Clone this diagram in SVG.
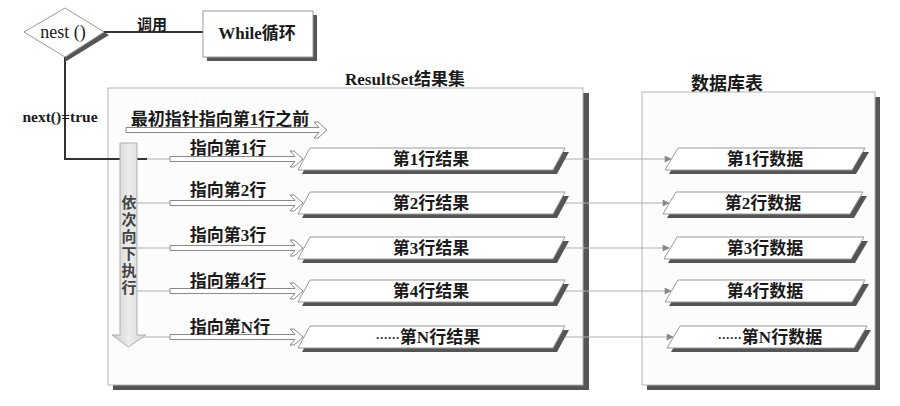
<svg xmlns="http://www.w3.org/2000/svg" width="900" height="406" viewBox="0 0 900 406">
<defs>
<style>
.t{font-family:"Liberation Serif","Noto Sans CJK SC",serif;font-weight:bold;fill:#1a1a1a;font-size:17px;text-anchor:middle}
.el{font-family:"Noto Sans CJK SC",sans-serif;font-weight:bold}
.box{fill:#fcfcfc;stroke:#b4b4b4;stroke-width:1}
.sh{fill:#555}
.para{fill:#fff;stroke:#9a9a9a;stroke-width:1}
.ha{fill:#fff;stroke:#8a8a8a;stroke-width:1}
.gl{stroke:#b0b0b0;stroke-width:1;fill:none}
.bl{stroke:#333;stroke-width:2;fill:none}
</style>
<marker id="tri" viewBox="0 0 10 10" refX="9" refY="5" markerWidth="8" markerHeight="7" orient="auto" markerUnits="userSpaceOnUse">
<path d="M0,0 L10,5 L0,10 Z" fill="#888"/>
</marker>
<linearGradient id="vg" x1="0" y1="0" x2="1" y2="0">
<stop offset="0" stop-color="#cfcfcf"/>
<stop offset="0.5" stop-color="#ececec"/>
<stop offset="1" stop-color="#d4d4d4"/>
</linearGradient>
</defs>
<rect width="900" height="406" fill="#fff"/>

<!-- containers -->
<g id="resultset">
<rect x="113" y="93" width="476" height="297" class="sh"/>
<rect x="108" y="88" width="475" height="297" class="box"/>
<text x="405" y="85" class="t" style="font-size:17px">ResultSet结果集</text>
</g>
<g id="dbtable">
<rect x="647" y="97" width="233" height="293" class="sh"/>
<rect x="642" y="92" width="233" height="293" class="box"/>
<text x="727" y="90" class="t" style="font-size:18px">数据库表</text>
</g>

<!-- connectors -->
<g id="connectors">
<line x1="104" y1="32" x2="203" y2="32" class="bl" stroke-width="1.5"/>
<text x="152" y="30" class="t" style="font-size:15px">调用</text>
<polyline points="65,57 65,159 120,159" class="bl"/>
<line x1="137" y1="159" x2="147" y2="159" class="bl"/>
<text x="60" y="122" class="t" style="font-size:15.5px">next()=true</text>
<line x1="147" y1="159" x2="170" y2="159" class="gl"/>
<line x1="137" y1="203" x2="170" y2="203" class="gl"/>
<line x1="137" y1="248" x2="170" y2="248" class="gl"/>
<line x1="137" y1="291" x2="170" y2="291" class="gl"/>
<line x1="137" y1="337" x2="170" y2="337" class="gl"/>
<line x1="560" y1="159" x2="671" y2="159" class="gl" marker-end="url(#tri)"/>
<line x1="560" y1="203" x2="669" y2="203" class="gl" marker-end="url(#tri)"/>
<line x1="560" y1="248" x2="669" y2="248" class="gl" marker-end="url(#tri)"/>
<line x1="560" y1="291" x2="671" y2="291" class="gl" marker-end="url(#tri)"/>
<line x1="560" y1="337" x2="673" y2="337" class="gl" marker-end="url(#tri)"/>
</g>

<!-- nest() diamond -->
<g id="nest">
<polygon points="104,32 65,57 65,62 109,35" class="sh"/>
<polygon points="24,32 65,8 104,32 65,57" fill="#fff" stroke="#9a9a9a" stroke-width="1"/>
<text x="63" y="38" class="t" style="font-weight:normal;font-size:18px">nest ()</text>
</g>

<!-- While box -->
<g id="while">
<rect x="207" y="15" width="110" height="46" class="sh"/>
<rect x="203" y="11" width="110" height="46" fill="#fff" stroke="#9a9a9a"/>
<text x="257" y="39" class="t" style="font-size:17px">While循环</text>
</g>

<!-- vertical arrow -->
<g id="down-arrow">
<polygon points="120,143 137,143 137,335 146,335 128.5,347 112,335 120,335" fill="url(#vg)" stroke="#b0b0b0"/>
<text x="129" y="195" style="font-family:'Noto Sans CJK SC',sans-serif;font-size:15px;font-weight:bold;fill:#444;writing-mode:vertical-rl;letter-spacing:2px">依次向下执行</text>
</g>

<!-- initial pointer -->
<g id="initial">
<polygon points="126,127.5 319,127.5 314,122 318,122 327,130 318,138 314,138 319,132.5 126,132.5" class="ha"/>
<text x="220" y="125" class="t">最初指针指向第1行之前</text>
</g>

<!-- pointer arrows -->
<g id="ptr1">
<polygon points="170,156.5 295,156.5 290,151 294,151 303,159 294,167 290,167 295,161.5 170,161.5" class="ha"/>
<text x="228" y="154" class="t">指向第1行</text>
</g>
<g id="ptr2">
<polygon points="170,200.5 295,200.5 290,195 294,195 303,203 294,211 290,211 295,205.5 170,205.5" class="ha"/>
<text x="228" y="196" class="t">指向第2行</text>
</g>
<g id="ptr3">
<polygon points="170,245.5 295,245.5 290,240 294,240 303,248 294,256 290,256 295,250.5 170,250.5" class="ha"/>
<text x="228" y="241" class="t">指向第3行</text>
</g>
<g id="ptr4">
<polygon points="170,288.5 295,288.5 290,283 294,283 303,291 294,299 290,299 295,293.5 170,293.5" class="ha"/>
<text x="228" y="287" class="t">指向第4行</text>
</g>
<g id="ptrN">
<polygon points="170,334.5 295,334.5 290,329 294,329 303,337 294,345 290,345 295,339.5 170,339.5" class="ha"/>
<text x="230" y="333" class="t">指向第N行</text>
</g>

<!-- result rows -->
<g id="res1">
<polygon points="314,152 569,152 557,174 302,174" class="sh"/>
<polygon points="310,148 565,148 553,170 298,170" class="para"/>
<text x="431" y="165" class="t">第1行结果</text>
</g>
<g id="res2">
<polygon points="314,196 569,196 557,218 302,218" class="sh"/>
<polygon points="310,192 565,192 553,214 298,214" class="para"/>
<text x="431" y="209" class="t">第2行结果</text>
</g>
<g id="res3">
<polygon points="314,241 569,241 557,263 302,263" class="sh"/>
<polygon points="310,237 565,237 553,259 298,259" class="para"/>
<text x="431" y="254" class="t">第3行结果</text>
</g>
<g id="res4">
<polygon points="314,284 569,284 557,306 302,306" class="sh"/>
<polygon points="310,280 565,280 553,302 298,302" class="para"/>
<text x="431" y="297" class="t">第4行结果</text>
</g>
<g id="resN">
<polygon points="314,330 569,330 557,352 302,352" class="sh"/>
<polygon points="310,326 565,326 553,348 298,348" class="para"/>
<text x="428" y="343" class="t"><tspan class="el" style="font-size:12px">……</tspan>第N行结果</text>
</g>

<!-- database rows -->
<g id="db1">
<polygon points="682,152 869,152 856,174 669,174" class="sh"/>
<polygon points="678,148 865,148 852,170 665,170" class="para"/>
<text x="765" y="165" class="t">第1行数据</text>
</g>
<g id="db2">
<polygon points="680,196 867,196 854,218 667,218" class="sh"/>
<polygon points="676,192 863,192 850,214 663,214" class="para"/>
<text x="763" y="209" class="t">第2行数据</text>
</g>
<g id="db3">
<polygon points="681,241 868,241 855,263 668,263" class="sh"/>
<polygon points="677,237 864,237 851,259 664,259" class="para"/>
<text x="765" y="254" class="t">第3行数据</text>
</g>
<g id="db4">
<polygon points="682,284 869,284 856,306 669,306" class="sh"/>
<polygon points="678,280 865,280 852,302 665,302" class="para"/>
<text x="765" y="297" class="t">第4行数据</text>
</g>
<g id="dbN">
<polygon points="684,330 871,330 858,352 671,352" class="sh"/>
<polygon points="680,326 867,326 854,348 667,348" class="para"/>
<text x="770" y="343" class="t"><tspan class="el" style="font-size:12px">……</tspan>第N行数据</text>
</g>
</svg>
